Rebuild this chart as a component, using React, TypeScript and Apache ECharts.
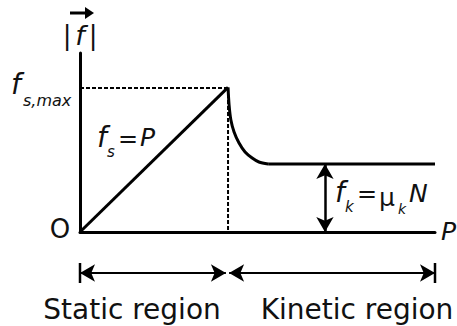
import React, { useEffect, useRef } from "react";
import * as echarts from "echarts";

// Applied force P (x) vs friction |f| (y), arbitrary units
const staticLine: [number, number][] = [[0, 0], [4.17, 8.08]];
const dropCurve: [number, number][] = [
  [4.17, 8.08], [4.2, 7.09], [4.25, 6.26], [4.34, 5.59], [4.48, 4.97],
  [4.65, 4.47], [4.85, 4.13], [5.04, 3.91], [5.3, 3.8],
];
const kineticLine: [number, number][] = [[5.3, 3.8], [10, 3.8]];
const fsMaxGuide: [number, number][] = [[0, 8.05], [4.17, 8.05]];
const peakGuide: [number, number][] = [[4.17, 8.05], [4.17, 0]];
const fkArrowX = 6.9;
const fkLevel = 3.8;
const staticRegion: [number, number] = [0, 4.11];
const kineticRegion: [number, number] = [4.2, 10];

const FONT = "'DejaVu Sans', sans-serif";

export default function App() {
  const ref = useRef<HTMLDivElement>(null);
  useEffect(() => {
    if (!ref.current) return;
    const chart = echarts.init(ref.current, undefined, { renderer: "svg" });
    const black = "#000";
    const solid = (w: number) => ({ color: black, width: w, type: "solid" as const });
    const txt = (text: string, x: number, y: number, size: number, italic = false, align = "center") => ({
      type: "text",
      x,
      y,
      style: {
        text,
        fill: "#111",
        font: `${italic ? "italic " : ""}${size}px ${FONT}`,
        align,
        verticalAlign: "middle",
      },
    });
    chart.setOption({
      animation: false,
      backgroundColor: "#fff",
      grid: [
        { left: 80, right: 22, top: 53, bottom: 94 },
        { left: 80, right: 22, top: 263, height: 20 },
      ],
      xAxis: [
        {
          type: "value", gridIndex: 0, min: 0, max: 10,
          axisLine: { show: true, lineStyle: solid(3) },
          axisTick: { show: false }, axisLabel: { show: false }, splitLine: { show: false },
        },
        {
          type: "value", gridIndex: 1, min: 0, max: 10, show: false,
        },
      ],
      yAxis: [
        {
          type: "value", gridIndex: 0, min: 0, max: 10,
          axisLine: { show: true, lineStyle: solid(3) },
          axisTick: { show: false }, axisLabel: { show: false }, splitLine: { show: false },
        },
        { type: "value", gridIndex: 1, min: -1, max: 1, show: false },
      ],
      series: [
        { type: "line", data: staticLine, symbol: "none", lineStyle: solid(3) },
        { type: "line", data: dropCurve, symbol: "none", smooth: 0.3, lineStyle: solid(3) },
        { type: "line", data: kineticLine, symbol: "none", lineStyle: solid(3) },
        { type: "line", data: fsMaxGuide, symbol: "none", lineStyle: { color: black, width: 2, type: [4, 2] } },
        {
          type: "line", data: peakGuide, symbol: "none", lineStyle: { color: black, width: 2, type: [4, 2] },
          markLine: {
            silent: true, symbol: ["arrow", "arrow"], symbolSize: [13, 15],
            label: { show: false }, lineStyle: solid(2.5),
            data: [[{ coord: [fkArrowX, fkLevel] }, { coord: [fkArrowX, 0] }]],
          },
        },
        {
          type: "line", xAxisIndex: 1, yAxisIndex: 1,
          data: [[0, -1], [0, 1]], symbol: "none", lineStyle: solid(2.5),
          markLine: {
            silent: true, symbol: ["arrow", "arrow"], symbolSize: [13, 15],
            label: { show: false }, lineStyle: solid(2),
            data: [
              [{ coord: [staticRegion[0], 0] }, { coord: [staticRegion[1], 0] }],
              [{ coord: [kineticRegion[0], 0] }, { coord: [kineticRegion[1], 0] }],
            ],
          },
        },
        {
          type: "line", xAxisIndex: 1, yAxisIndex: 1,
          data: [[10, -1], [10, 1]], symbol: "none", lineStyle: solid(2.5),
        },
      ],
      graphic: [
        txt("Static region", 132, 309, 28),
        txt("Kinetic region", 357, 309, 28),
        txt("O", 60, 229, 26),
        txt("P", 441, 231, 25, true, "left"),
        txt("|", 67, 35, 26),
        txt("f", 80, 35, 27, true),
        txt("|", 93, 35, 26),
        { type: "line", shape: { x1: 70, y1: 13, x2: 86, y2: 13 }, style: { stroke: black, lineWidth: 3 } },
        { type: "polygon", shape: { points: [[85, 7], [94, 13], [85, 19]] }, style: { fill: black } },
        txt("f", 16, 84, 28, true),
        txt("s,max", 23, 100, 16, true, "left"),
        txt("f", 102, 137, 28, true),
        txt("s", 107, 152, 15, true, "left"),
        txt("=", 128, 139, 24),
        txt("P", 140, 137, 25, true, "left"),
        txt("f", 340, 192, 28, true),
        txt("k", 345, 207, 15, true, "left"),
        txt("=", 367, 194, 24),
        txt("μ", 387, 197, 25),
        txt("k", 398, 209, 14, true, "left"),
        txt("N", 409, 193, 25, true, "left"),
      ],
    });
    return () => chart.dispose();
  }, []);
  return <div ref={ref} style={{ width: 457, height: 326, position: "fixed", left: 0, top: 0 }} />;
}
